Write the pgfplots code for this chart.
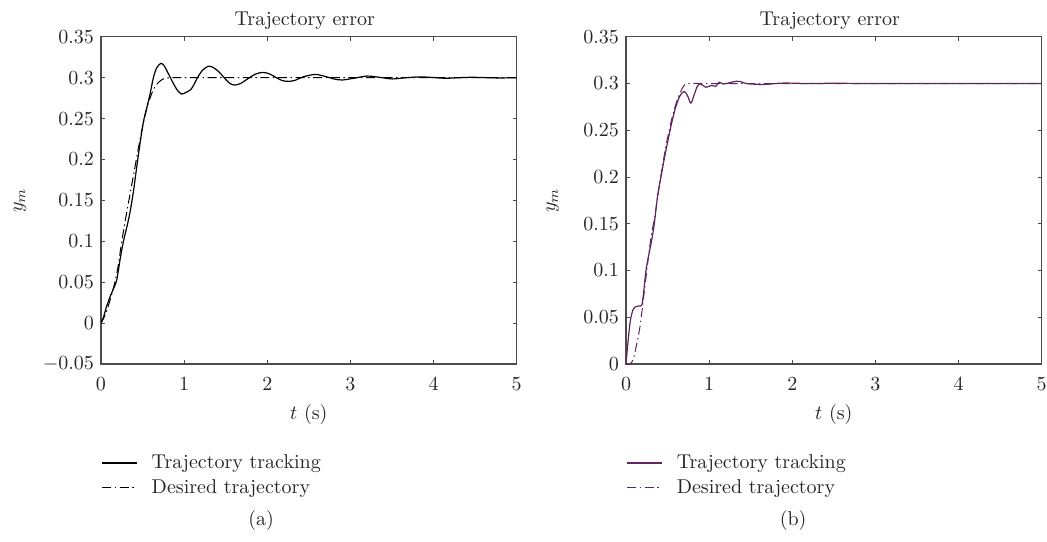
\documentclass[border=0pt]{standalone}
\usepackage{pgfplots}
\usepackage{pgfplotstable}
\pgfplotsset{compat=1.18}

\definecolor{plum}{RGB}{96,36,96}
\definecolor{axgray}{RGB}{75,75,75}

% (a) tracking response, PID-like controller
\pgfplotstableread{
t v
0 0
0.03 0.007
0.06 0.018
0.108 0.032
0.15 0.042
0.19 0.053
0.23 0.078
0.27 0.100
0.31 0.117
0.35 0.136
0.39 0.161
0.43 0.191
0.47 0.220
0.51 0.246
0.55 0.263
0.59 0.280
0.63 0.300
0.67 0.312
0.72 0.3175
0.76 0.3145
0.81 0.305
0.87 0.293
0.92 0.2845
0.97 0.2800
1.02 0.2820
1.08 0.2855
1.12 0.2920
1.16 0.3000
1.22 0.3090
1.29 0.3140
1.35 0.3125
1.42 0.3070
1.49 0.2990
1.55 0.2930
1.61 0.2910
1.68 0.2930
1.77 0.2990
1.86 0.3045
1.95 0.3065
2.03 0.3045
2.11 0.3000
2.18 0.2965
2.26 0.2955
2.34 0.2970
2.43 0.3010
2.575 0.3040
2.70 0.3015
2.80 0.2985
2.90 0.2972
3.05 0.2995
3.20 0.3020
3.35 0.3005
3.50 0.2985
3.67 0.3000
3.84 0.3010
4.00 0.3002
4.15 0.2993
4.30 0.3000
4.47 0.3005
4.65 0.3000
4.80 0.2997
5.00 0.3000
}\trackA

% (a) reference trajectory
\pgfplotstableread{
t v
0 0
0.05 0.010
0.10 0.025
0.15 0.043
0.20 0.066
0.25 0.100
0.30 0.130
0.35 0.158
0.40 0.186
0.45 0.214
0.50 0.240
0.55 0.262
0.60 0.278
0.65 0.289
0.70 0.295
0.75 0.2985
0.80 0.2998
0.85 0.3
1 0.3
2 0.3
3 0.3
4 0.3
5 0.3
}\desA

% (b) tracking response, proposed controller
\pgfplotstableread{
t v
0 0
0.02 0.020
0.05 0.045
0.08 0.057
0.11 0.061
0.15 0.062
0.19 0.063
0.21 0.075
0.24 0.100
0.27 0.115
0.31 0.133
0.34 0.150
0.38 0.180
0.42 0.200
0.47 0.224
0.53 0.250
0.56 0.262
0.60 0.2755
0.65 0.287
0.70 0.2915
0.74 0.287
0.78 0.279
0.82 0.288
0.86 0.2975
0.90 0.2995
0.96 0.2960
1.03 0.2980
1.08 0.2970
1.12 0.3015
1.17 0.2995
1.25 0.3010
1.33 0.3025
1.38 0.3020
1.45 0.3000
1.65 0.2990
1.89 0.3005
2.20 0.3000
2.50 0.3003
3.00 0.3000
4.00 0.3000
5.00 0.3000
}\trackB

% (b) reference trajectory
\pgfplotstableread{
t v
0 0
0.05 0.000
0.09 0.006
0.13 0.022
0.17 0.041
0.21 0.070
0.25 0.100
0.30 0.135
0.35 0.160
0.40 0.190
0.45 0.218
0.50 0.242
0.55 0.262
0.60 0.278
0.65 0.290
0.70 0.298
0.75 0.300
1 0.3
2 0.3
3 0.3
4 0.3
5 0.3
}\desB

\pgfplotsset{
  trajax/.style={
    scale only axis, width=207.85pt, height=163.6pt,
    clip mode=individual,
    xmin=0, xmax=5, xtick={0,1,2,3,4,5},
    tick align=inside, major tick length=2pt,
    axis line style={axgray, line width=0.6pt},
    every tick/.style={axgray, line width=0.5pt},
    tick label style={text=black!85},
    xticklabel style={yshift=-3.5pt},
    title={Trajectory error},
    title style={text=black!85, yshift=-6pt, xshift=-2pt},
    xlabel={$t$ (s)}, ylabel={$y_m$},
    label style={text=black!85},
    legend cell align=left,
    legend style={draw=none, fill=none, at={(0,-0.263)}, anchor=north west,
      inner sep=0pt, column sep=5.5pt, text=black!85},
  },
  dashdot/.style={dash pattern=on 4.5pt off 1.8pt on 0.7pt off 1.8pt},
}

\begin{document}
\begin{tikzpicture}
\useasboundingbox (-50.5pt,-88.5pt) rectangle (473pt,182pt);

\begin{axis}[trajax,
  ymin=-0.05, ymax=0.35,
  ytick={-0.05,0,0.05,0.1,0.15,0.2,0.25,0.3,0.35},
  yticklabels={$-0.05$,0,0.05,0.1,0.15,0.2,0.25,0.3,0.35},
  ylabel style={at={(axis description cs:-0.195,0.5)}, anchor=center},
]
\addplot[black, line width=0.6pt, smooth] table[x=t,y=v] {\trackA};
\addlegendentry{Trajectory tracking}
\addplot[black, line width=0.5pt, dashdot, smooth] table[x=t,y=v] {\desA};
\addlegendentry{Desired trajectory}
\node[text=black!85] at (axis description cs:0.385,-0.477) {(a)};
\end{axis}

\begin{axis}[trajax, at={(262.5pt,0pt)},
  ymin=0, ymax=0.35,
  ytick={0,0.05,0.1,0.15,0.2,0.25,0.3,0.35},
  yticklabels={0,0.05,0.1,0.15,0.2,0.25,0.3,0.35},
  ylabel style={at={(axis description cs:-0.176,0.5)}, anchor=center},
]
\addplot[plum, line width=0.6pt, smooth] table[x=t,y=v] {\trackB};
\addlegendentry{Trajectory tracking}
\addplot[plum, line width=0.5pt, dashdot, smooth] table[x=t,y=v] {\desB};
\addlegendentry{Desired trajectory}
\node[text=black!85] at (axis description cs:0.402,-0.477) {(b)};
\end{axis}
\end{tikzpicture}
\end{document}
